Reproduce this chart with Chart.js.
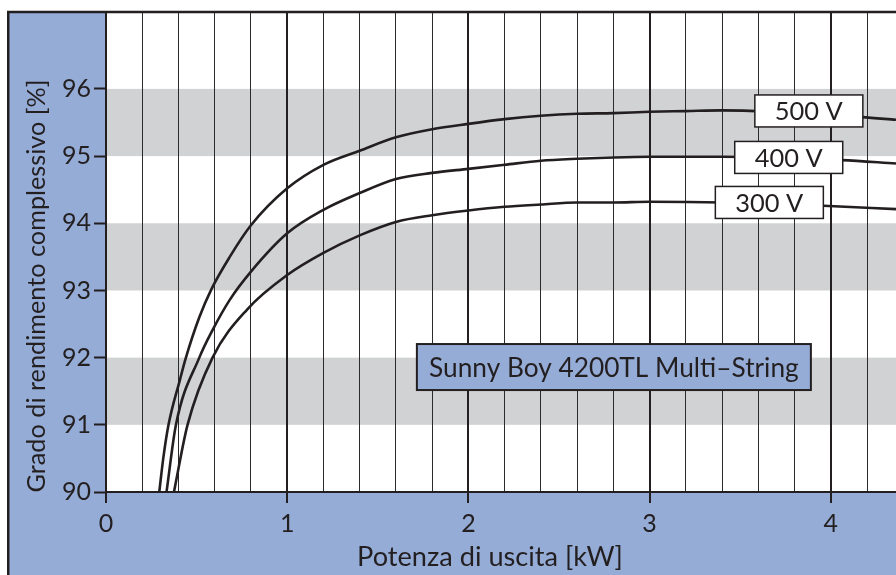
<!DOCTYPE html>
<html>
<head>
<meta charset="utf-8">
<script src="https://cdn.jsdelivr.net/npm/chart.js@4.4.1/dist/chart.umd.min.js"></script>
<style>
  html, body { margin: 0; padding: 0; background: #fff; }
  #wrap { width: 896px; height: 575px; }
</style>
</head>
<body>
<div id="wrap"><canvas id="chart" width="896" height="575"></canvas></div>
<script>
// --- data ---
const seriesNames = ['500 V', '400 V', '300 V'];

const x500 = [0.294, 0.316, 0.345, 0.408, 0.441, 0.515, 0.582, 0.683, 0.8, 1.0, 1.2, 1.4, 1.6, 1.8, 2.0, 2.2, 2.4, 2.6, 2.8, 3.0, 3.2, 3.4, 4.17, 4.36];
const y500 = [90, 90.5, 91, 91.67, 92, 92.6, 93.02, 93.5, 93.97, 94.52, 94.87, 95.08, 95.28, 95.40, 95.48, 95.55, 95.6, 95.63, 95.64, 95.66, 95.67, 95.68, 95.58, 95.54];

const x400 = [0.334, 0.386, 0.515, 0.588, 0.683, 0.8, 1.0, 1.2, 1.4, 1.6, 1.8, 2.0, 2.2, 2.4, 2.6, 2.8, 3.0, 3.4, 4.06, 4.36];
const y400 = [90, 91, 92.0, 92.41, 92.86, 93.28, 93.85, 94.2, 94.45, 94.66, 94.75, 94.81, 94.87, 94.93, 94.96, 94.98, 94.99, 94.99, 94.94, 94.89];

const x300 = [0.375, 0.45, 0.588, 0.78, 1.0, 1.2, 1.4, 1.6, 1.8, 2.0, 2.2, 2.4, 2.6, 2.8, 3.0, 3.4, 3.96, 4.36];
const y300 = [90, 91, 92, 92.72, 93.23, 93.56, 93.82, 94.02, 94.12, 94.19, 94.245, 94.28, 94.31, 94.31, 94.32, 94.31, 94.26, 94.21];

const xTickLabels = [0, 1, 2, 3, 4];
const yTicks = [90, 91, 92, 93, 94, 95, 96];
const yBands = [[91, 92], [93, 94], [95, 96]];

// where the voltage tags sit (data units)
const tagX = [3.879, 3.768, 3.661];
const tagY = [95.672, 94.98, 94.31];

const chartTitle = 'Sunny Boy 4200TL Multi\u2013String';
const xTitle = 'Potenza di uscita [kW]';
const yTitle = 'Grado di rendimento complessivo [%]';

// --- styles ---
const ink = '#231f20';
const blue = '#95acd7';
const grey = '#d1d2d4';
const family = 'Lato, "Noto Sans", sans-serif';

function fitSize(ctx, text, width) {
  ctx.font = '100px ' + family;
  return 100 * width / ctx.measureText(text).width;
}

function toPoints(xs, ys) {
  return xs.map((x, i) => ({ x: x, y: ys[i] }));
}

const isMajor = v => xTickLabels.includes(v);

// no extra room for half labels at the ends of the axes
function noEndPadding(s) {
  s.paddingTop = 0;
  s.paddingBottom = 0;
  s.paddingLeft = 0;
  s.paddingRight = 0;
}

const decor = {
  id: 'decor',
  beforeDraw(chart) {
    const { ctx, chartArea: a, width, height } = chart;
    const y = chart.scales.y;
    ctx.save();
    ctx.fillStyle = '#fff';
    ctx.fillRect(0, 0, width, height);
    ctx.fillStyle = blue;
    ctx.fillRect(9, 12, width - 9, height - 12);
    ctx.fillStyle = '#fff';
    ctx.fillRect(a.left, a.top, a.right - a.left, a.bottom - a.top);
    ctx.fillStyle = grey;
    yBands.forEach(([lo, hi]) => {
      const t = y.getPixelForValue(hi);
      const b = y.getPixelForValue(lo);
      ctx.fillRect(a.left, t, a.right - a.left, b - t);
    });
    ctx.restore();
  },
  afterDatasetsDraw(chart) {
    const { ctx } = chart;
    const xs = chart.scales.x, ys = chart.scales.y;
    ctx.save();
    // voltage tags
    const tagSize = fitSize(ctx, '500 V', 68);
    seriesNames.forEach((name, i) => {
      const cx = xs.getPixelForValue(tagX[i]);
      const cy = ys.getPixelForValue(tagY[i]);
      ctx.fillStyle = '#fff';
      ctx.fillRect(cx - 54, cy - 16, 108, 32);
      ctx.strokeStyle = ink;
      ctx.lineWidth = 1.5;
      ctx.strokeRect(cx - 54, cy - 16, 108, 32);
      ctx.fillStyle = ink;
      ctx.font = tagSize + 'px ' + family;
      ctx.textAlign = 'center';
      ctx.textBaseline = 'middle';
      ctx.fillText(name, cx, cy + 1);
    });
    // model box
    const bx = xs.getPixelForValue(2.803);
    const by = ys.getPixelForValue(91.86);
    ctx.fillStyle = blue;
    ctx.fillRect(bx - 197, by - 23, 394, 46);
    ctx.strokeStyle = ink;
    ctx.lineWidth = 2;
    ctx.strokeRect(bx - 197, by - 23, 394, 46);
    ctx.fillStyle = ink;
    ctx.font = fitSize(ctx, chartTitle, 370) + 'px ' + family;
    ctx.textAlign = 'center';
    ctx.textBaseline = 'middle';
    ctx.fillText(chartTitle, bx, by + 1);
    ctx.restore();
  },
  afterDraw(chart) {
    const { ctx, width, height } = chart;
    ctx.save();
    ctx.strokeStyle = ink;
    ctx.lineWidth = 2.5;
    ctx.beginPath();
    ctx.moveTo(7, 12);
    ctx.lineTo(width, 12);
    ctx.moveTo(8.25, 11);
    ctx.lineTo(8.25, height);
    ctx.stroke();

    ctx.fillStyle = ink;
    ctx.textAlign = 'center';
    ctx.textBaseline = 'middle';
    ctx.font = fitSize(ctx, xTitle, 266) + 'px ' + family;
    ctx.fillText(xTitle, 490, 557);

    ctx.translate(37, 286);
    ctx.rotate(-Math.PI / 2);
    ctx.font = fitSize(ctx, yTitle, 413) + 'px ' + family;
    ctx.fillText(yTitle, 0, 0);
    ctx.restore();
  }
};

new Chart(document.getElementById('chart'), {
  type: 'line',
  data: {
    datasets: [
      { label: seriesNames[0], data: toPoints(x500, y500) },
      { label: seriesNames[1], data: toPoints(x400, y400) },
      { label: seriesNames[2], data: toPoints(x300, y300) }
    ]
  },
  options: {
    responsive: false,
    animation: false,
    devicePixelRatio: 1,
    layout: { autoPadding: false, padding: { top: 13, left: 0, right: 0, bottom: 0 } },
    elements: {
      point: { radius: 0, hoverRadius: 0 },
      line: { borderColor: ink, borderWidth: 2.6, cubicInterpolationMode: 'monotone', fill: false }
    },
    plugins: {
      legend: { display: false },
      tooltip: { enabled: false }
    },
    scales: {
      x: {
        type: 'linear',
        min: 0,
        max: 4.36,
        afterBuildTicks: s => {
          const t = [];
          for (let i = 0; i <= 21; i++) t.push({ value: Math.round(i * 2) / 10 });
          s.ticks = t;
        },
        afterFit: s => { s.height = 83; noEndPadding(s); },
        ticks: {
          autoSkip: false,
          maxRotation: 0,
          padding: 6,
          color: ink,
          font: { family: family, size: 25 },
          callback: v => isMajor(v) ? String(v) : ''
        },
        grid: {
          color: c => isMajor(c.tick.value) ? ink : '#2b2b2b',
          lineWidth: c => isMajor(c.tick.value) ? 2 : 1,
          tickLength: 11,
          tickWidth: 2,
          tickColor: c => isMajor(c.tick.value) ? ink : 'rgba(0,0,0,0)'
        },
        border: { color: ink, width: 2 }
      },
      y: {
        type: 'linear',
        min: 90,
        max: 97.13,
        afterBuildTicks: s => { s.ticks = yTicks.map(v => ({ value: v })); },
        afterFit: s => { s.width = 106; noEndPadding(s); },
        ticks: {
          padding: 3,
          color: ink,
          font: { family: family, size: 25 }
        },
        grid: {
          drawOnChartArea: false,
          tickLength: 12,
          tickWidth: 2,
          tickColor: ink
        },
        border: { color: ink, width: 2 }
      }
    }
  },
  plugins: [decor]
});
</script>
</body>
</html>
